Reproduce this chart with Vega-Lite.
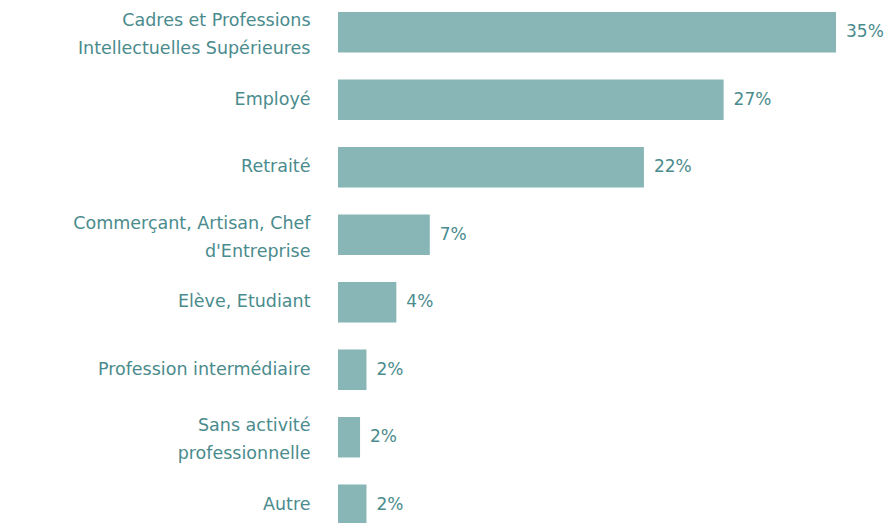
{
  "$schema": "https://vega.github.io/schema/vega-lite/v6.json",
  "autosize": {"type": "none"},
  "width": 498,
  "height": 523,
  "padding": {"left": 338, "top": 0, "right": 56, "bottom": 0},
  "background": "white",
  "data": {
    "values": [
      {"cat": "Cadres et Professions|Intellectuelles Supérieures", "value": 35, "label": "35%"},
      {"cat": "Employé", "value": 27.1, "label": "27%"},
      {"cat": "Retraité", "value": 21.5, "label": "22%"},
      {"cat": "Commerçant, Artisan, Chef|d'Entreprise", "value": 6.45, "label": "7%"},
      {"cat": "Elève, Etudiant", "value": 4.1, "label": "4%"},
      {"cat": "Profession intermédiaire", "value": 2.0, "label": "2%"},
      {"cat": "Sans activité|professionnelle", "value": 1.55, "label": "2%"},
      {"cat": "Autre", "value": 2.0, "label": "2%"}
    ]
  },
  "encoding": {
    "y": {
      "field": "cat",
      "type": "nominal",
      "sort": null,
      "scale": {"range": [12, 525], "paddingInner": 0.4, "paddingOuter": 0},
      "axis": {
        "title": null,
        "ticks": false,
        "domain": false,
        "labelExpr": "split(datum.label, '|')",
        "labelFont": "DejaVu Sans",
        "labelFontSize": 17.5,
        "labelColor": "#4a8b8d",
        "labelPadding": 28,
        "labelLineHeight": 28,
        "labelLimit": 340,
        "labelOffset": {"condition": {"test": "indexof(datum.value, '|') >= 0", "value": -11}, "value": 0}
      }
    },
    "x": {
      "field": "value",
      "type": "quantitative",
      "scale": {"domain": [0, 35], "nice": false},
      "axis": null
    }
  },
  "layer": [
    {"mark": {"type": "bar", "color": "#88b5b6"}},
    {
      "mark": {"type": "text", "align": "left", "baseline": "middle", "dx": 10, "font": "DejaVu Sans", "fontSize": 17, "color": "#4a8b8d"},
      "encoding": {"text": {"field": "label"}}
    }
  ],
  "config": {"view": {"stroke": null}}
}
